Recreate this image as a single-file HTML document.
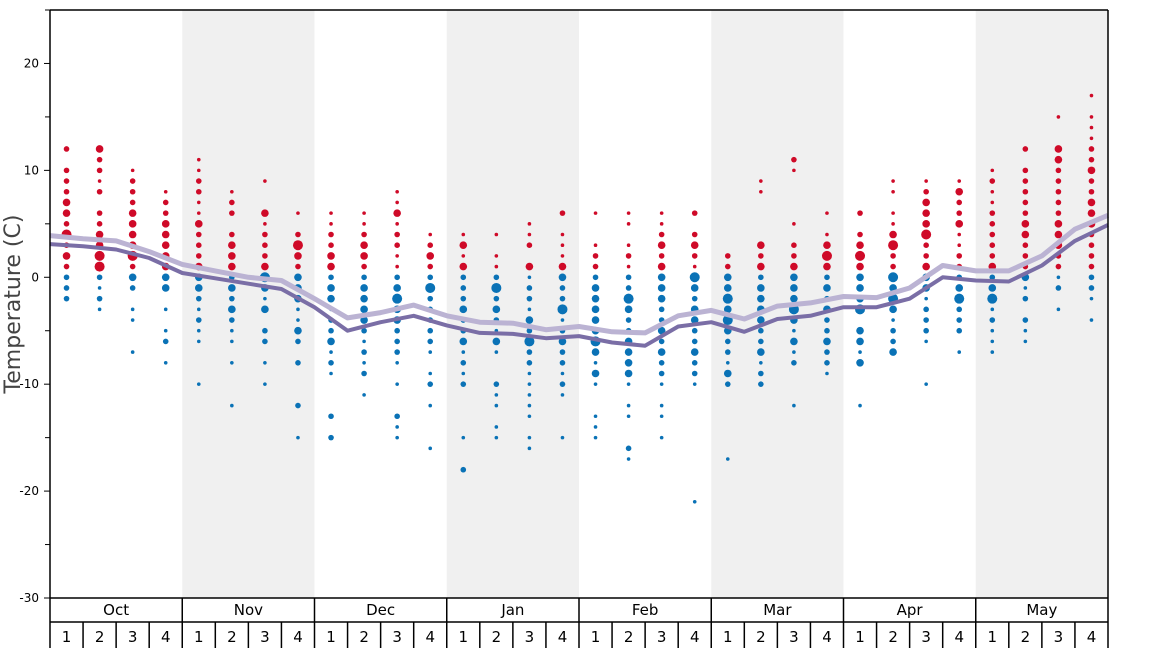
<!DOCTYPE html>
<html><head><meta charset="utf-8">
<style>
html,body{margin:0;padding:0;background:#fff;}
svg{display:block;font-family:"DejaVu Sans","Liberation Sans",sans-serif;}
</style></head>
<body>
<svg id="chart" width="1168" height="648" viewBox="0 0 1168 648"></svg>
<script>
const months = ["Oct","Nov","Dec","Jan","Feb","Mar","Apr","May"];
const weekLabels = ["1","2","3","4"];
const yTicks = [20,10,0,-10,-20,-30];
const yMinorTicks = [25,15,5,-5,-15,-25];
// dark line (values at week boundaries, 33 points)
const darkLine = [3.1,2.9,2.6,1.8,0.4,-0.1,-0.6,-1.1,-2.8,-5.0,-4.2,-3.6,-4.5,-5.2,-5.3,-5.7,-5.5,-6.1,-6.4,-4.6,-4.2,-5.1,-3.9,-3.6,-2.8,-2.8,-2.0,0.0,-0.3,-0.4,1.1,3.4,4.9];
const lightLine = [3.9,3.6,3.4,2.4,1.2,0.6,0.0,-0.3,-2.0,-3.8,-3.3,-2.6,-3.6,-4.2,-4.3,-4.9,-4.6,-5.1,-5.2,-3.6,-3.1,-3.9,-2.7,-2.4,-1.8,-1.9,-1.0,1.1,0.6,0.6,2.0,4.5,5.8];
// per-week observations "temp:sizeClass"
const weekDots = [
"12:2 10:2 9:2 8:2 7:3 6:3 5:2 4:4 3:2 2:3 1:2 0:2 -1:2 -2:2",
"12:3 11:2 10:2 9:1 8:2 6:2 5:2 4:3 3:3 2:4 1:4 0:2 -1:1 -2:2 -3:1",
"10:1 9:2 8:2 7:2 6:3 5:3 4:3 3:3 2:4 1:2 0:3 -1:2 -3:1 -4:1 -7:1",
"8:1 7:2 6:2 5:3 4:3 3:3 2:3 1:3 0:3 -1:3 -3:1 -5:1 -6:2 -8:1",
"11:1 10:1 9:2 8:2 7:1 6:1 5:3 4:2 3:2 2:2 1:3 0:3 -1:3 -2:2 -3:1 -4:2 -5:1 -6:1 -10:1",
"8:1 7:2 6:2 4:2 3:3 2:3 1:3 0:2 -1:3 -2:2 -3:3 -4:2 -5:1 -6:1 -8:1 -12:1",
"9:1 6:3 5:1 4:2 3:2 2:2 1:3 0:4 -1:3 -2:1 -3:3 -5:2 -6:2 -8:1 -10:1",
"6:1 4:2 3:4 2:3 1:2 0:3 -1:3 -2:3 -3:1 -4:1 -5:3 -6:2 -8:2 -12:2 -15:1",
"6:1 5:1 4:2 3:2 2:3 1:3 0:2 -1:3 -2:3 -3:1 -4:2 -5:2 -6:3 -7:1 -8:2 -9:1 -13:2 -15:2",
"6:1 5:1 4:2 3:3 2:3 1:2 0:2 -1:3 -2:3 -3:3 -4:3 -5:2 -6:1 -7:2 -8:1 -9:2 -11:1",
"8:1 7:1 6:3 5:1 4:2 3:2 2:1 1:1 0:2 -1:3 -2:4 -3:3 -4:3 -5:2 -6:2 -7:2 -8:1 -10:1 -13:2 -14:1 -15:1",
"4:1 3:2 2:3 1:2 0:2 -1:4 -2:2 -3:2 -4:2 -5:2 -6:2 -7:1 -9:1 -10:2 -12:1 -16:1",
"4:1 3:3 2:1 1:3 0:2 -1:2 -2:2 -3:3 -4:2 -5:2 -6:3 -7:1 -8:2 -9:1 -10:2 -15:1 -18:2",
"4:1 2:1 1:1 0:2 -1:4 -2:2 -3:3 -4:2 -5:1 -6:3 -7:1 -10:2 -11:1 -12:1 -14:1 -15:1",
"5:1 4:1 3:2 1:3 0:1 -1:2 -2:2 -3:1 -4:3 -5:2 -6:4 -7:2 -8:2 -9:1 -10:1 -11:1 -12:1 -13:1 -15:1 -16:1",
"6:2 4:1 3:1 2:1 1:3 0:3 -1:2 -2:2 -3:4 -4:1 -5:2 -6:3 -7:2 -8:2 -9:1 -10:2 -11:1 -15:1",
"6:1 3:1 2:2 1:2 0:2 -1:3 -2:3 -3:3 -4:3 -5:3 -6:4 -7:3 -8:1 -9:3 -10:1 -13:1 -14:1 -15:1",
"6:1 5:1 3:1 2:2 1:1 0:2 -1:2 -2:4 -3:3 -4:2 -5:2 -6:3 -7:3 -8:3 -9:3 -10:1 -12:1 -13:1 -16:2 -17:1",
"6:1 5:1 4:2 3:3 2:2 1:3 0:3 -1:3 -2:3 -3:2 -4:2 -5:3 -6:2 -7:3 -8:2 -9:2 -10:1 -12:1 -13:1 -15:1",
"6:2 4:2 3:3 2:2 1:1 0:4 -1:3 -2:2 -3:3 -4:3 -5:2 -6:2 -7:3 -8:2 -9:2 -10:1 -21:1",
"2:2 1:2 0:3 -1:3 -2:4 -3:3 -4:4 -5:3 -6:2 -7:2 -8:1 -9:3 -10:2 -17:1",
"9:1 8:1 3:3 2:2 1:3 0:2 -1:3 -2:3 -3:3 -4:3 -5:2 -6:2 -7:3 -8:1 -9:2 -10:2",
"11:2 10:1 5:1 3:2 2:2 1:3 0:3 -1:3 -2:3 -3:4 -4:3 -5:1 -6:3 -7:1 -8:2 -12:1",
"6:1 4:1 3:3 2:4 1:3 0:2 -1:3 -2:2 -3:3 -4:2 -5:2 -6:3 -7:2 -8:2 -9:1",
"6:2 4:2 3:3 2:4 1:3 0:3 -1:3 -2:3 -3:4 -5:3 -6:3 -7:1 -8:3 -12:1",
"9:1 8:1 6:1 5:1 4:3 3:4 2:2 1:2 0:4 -1:3 -2:4 -3:3 -4:1 -5:2 -6:2 -7:3",
"9:1 8:2 7:3 6:3 5:3 4:4 3:2 2:2 1:3 0:3 -1:3 -2:1 -3:2 -4:2 -5:2 -6:1 -10:1",
"9:1 8:3 7:2 6:2 5:3 4:1 3:1 2:2 1:2 0:2 -1:3 -2:4 -3:2 -4:2 -5:2 -7:1",
"10:1 9:2 8:1 7:1 6:2 5:2 4:2 3:2 2:2 1:3 0:2 -1:3 -2:4 -3:1 -4:2 -5:1 -6:1 -7:1",
"12:2 10:2 9:2 8:2 7:2 6:2 5:3 4:3 3:2 2:2 1:2 0:3 -1:1 -2:2 -4:2 -5:1 -6:1",
"15:1 12:3 11:3 10:2 9:2 8:2 7:2 6:2 5:3 4:3 3:3 2:2 1:2 0:1 -1:2 -3:1",
"17:1 15:1 14:1 13:1 12:2 11:2 10:3 9:2 8:2 7:3 6:3 5:3 4:2 3:2 2:2 1:2 0:2 -1:2 -2:1 -4:1"
];

const NS="http://www.w3.org/2000/svg";
const svg=document.getElementById('chart');
const X0=50,X1=1108,Y0=10,Y1=598,TMAX=25,TMIN=-30;
const NW=weekDots.length;
const colW=(X1-X0)/NW;
function yScale(t){return Y0+(TMAX-t)/(TMAX-TMIN)*(Y1-Y0);}
function xBoundary(i){return X0+i*colW;}
function xWeek(i){return X0+(i+0.5)*colW;}
const radii=[0,1.8,2.8,3.8,5];
function mk(tag,attrs,parent){const e=document.createElementNS(NS,tag);for(const k in attrs)e.setAttribute(k,attrs[k]);(parent||svg).appendChild(e);return e;}

const bands=mk('g',{});


months.forEach((m,i)=>{if(i%2===1){const r=mk('rect',{x:xBoundary(i*4),y:Y0,width:colW*4,height:Y1-Y0,fill:'#f0f0f0'},bands);

}});

const yax=mk('g',{});


yTicks.forEach(t=>{const y=yScale(t);mk('line',{x1:44,x2:X0,y1:y,y2:y,stroke:'#000','stroke-width':1},yax);
const tx=mk('text',{x:39,y:y+4,'text-anchor':'end','font-size':12,fill:'#000'},yax);tx.textContent=t;

});
yMinorTicks.forEach(t=>{const y=yScale(t);mk('line',{x1:45,x2:X0,y1:y,y2:y,stroke:'#000','stroke-width':1},yax);});
const yt=mk('text',{x:0,y:0,transform:'translate(20,304) rotate(-90)','text-anchor':'middle','font-size':22,fill:'#444'},yax);
yt.textContent='Temperature (C)';



const dots=mk('g',{});


weekDots.forEach((s,i)=>{s.split(' ').forEach(p=>{const [t,c]=p.split(':').map(Number);
const d=mk('circle',{cx:xWeek(i),cy:yScale(t),r:radii[c],fill:t>0?'#cf0a28':'#0a72b6'},dots);

});});

function linePath(vals){return vals.map((v,i)=>(i?'L':'M')+xBoundary(i).toFixed(1)+' '+yScale(v).toFixed(1)).join(' ');}
const lp=mk('path',{d:linePath(lightLine),fill:'none',stroke:'#bbb3d3','stroke-width':5,'stroke-linejoin':'round'});


const dp=mk('path',{d:linePath(darkLine),fill:'none',stroke:'#7a6ea6','stroke-width':4,'stroke-linejoin':'round'});



const fr=mk('g',{stroke:'#000','stroke-width':1.5,fill:'none'});


mk('line',{x1:X0,x2:X0,y1:Y0,y2:648},fr);
mk('line',{x1:X1,x2:X1,y1:Y0,y2:648},fr);
mk('line',{x1:X0,x2:X1,y1:Y0,y2:Y0},fr);
mk('line',{x1:X0,x2:X1,y1:Y1,y2:Y1},fr);
mk('line',{x1:X0,x2:X1,y1:622,y2:622},fr);

const xax=mk('g',{});


months.forEach((m,i)=>{const xb=xBoundary(i*4);
if(i>0)mk('line',{x1:xb,x2:xb,y1:Y1,y2:622,stroke:'#000','stroke-width':1.5},xax);
const t=mk('text',{x:xb+colW*2,y:615,'text-anchor':'middle','font-size':15,fill:'#000'},xax);t.textContent=m;


for(let w=0;w<4;w++){const wi=i*4+w;const x=xBoundary(wi);
if(wi>0)mk('line',{x1:x,x2:x,y1:622,y2:648,stroke:'#000','stroke-width':1.5},xax);
const wt=mk('text',{x:xWeek(wi),y:642,'text-anchor':'middle','font-size':15,fill:'#000'},xax);wt.textContent=weekLabels[w];

}});
</script>
</body></html>
